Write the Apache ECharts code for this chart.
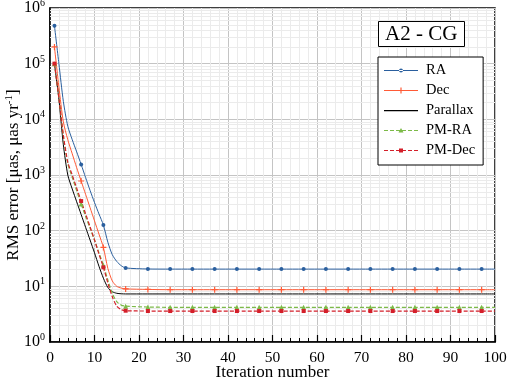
<!DOCTYPE html>
<html style="height: 100%;">
  <head>
    <meta charset="utf-8" />
  </head>
  <body style="height: 100%; margin: 0; background: #fff;">
    <div id="container" style="width: 511px; height: 381px;"></div>
    <script src="https://cdn.jsdelivr.net/npm/echarts@6/dist/echarts.min.js"></script>
    <script type="text/javascript">
      // iteration numbers where values were read (curves flat after ~17)
      var iterations = [1, 2, 3, 4, 5, 6, 7, 8, 9, 10, 11, 12, 13, 14, 15, 16, 17,
        22, 27, 32, 37, 42, 47, 52, 57, 62, 67, 72, 77, 82, 87, 92, 97, 100];
      var markedIters = [1, 7, 12, 17, 22, 27, 32, 37, 42, 47, 52, 57, 62, 67, 72, 77, 82, 87, 92, 97];

      var raErr = [480000, 100000, 21000, 7500, 4300, 2600, 1550, 900, 530, 320, 200, 126, 62, 37, 28, 23.5, 21.4,
        20.5, 20.4, 20.4, 20.4, 20.4, 20.4, 20.4, 20.4, 20.4, 20.4, 20.4, 20.4, 20.4, 20.4, 20.4, 20.4, 20.4];
      var decErr = [200000, 38000, 9000, 4300, 2400, 1350, 780, 450, 260, 150, 87, 50, 21, 12.5, 10, 9.3, 9.0,
        8.8, 8.7, 8.7, 8.7, 8.7, 8.7, 8.7, 8.7, 8.7, 8.7, 8.7, 8.7, 8.7, 8.7, 8.7, 8.7, 8.7];
      var parallaxErr = [100000, 23000, 3500, 1000, 560, 330, 195, 115, 68, 40, 23, 14, 9.5, 8.0, 7.5, 7.35, 7.3,
        7.3, 7.3, 7.3, 7.3, 7.3, 7.3, 7.3, 7.3, 7.3, 7.3, 7.3, 7.3, 7.3, 7.3, 7.3, 7.3, 7.3];
      var pmraErr = [100000, 24000, 5000, 1600, 900, 520, 300, 180, 110, 68, 40, 24, 13, 7.5, 5.3, 4.6, 4.4,
        4.25, 4.2, 4.2, 4.2, 4.2, 4.2, 4.2, 4.2, 4.2, 4.2, 4.2, 4.2, 4.2, 4.2, 4.2, 4.2, 4.2];
      var pmdecErr = [100000, 24000, 5200, 1700, 1000, 580, 340, 200, 118, 68, 38, 22, 11.5, 6.5, 4.4, 3.8, 3.65,
        3.6, 3.6, 3.6, 3.6, 3.6, 3.6, 3.6, 3.6, 3.6, 3.6, 3.6, 3.6, 3.6, 3.6, 3.6, 3.6, 3.6];

      var seriesNames = ["RA", "Dec", "Parallax", "PM-RA", "PM-Dec"];
      var yDecades = [0, 1, 2, 3, 4, 5, 6];

      var serif = "Liberation Serif";

      // light grid lines at 2..9 x 10^k
      var minorY = [];
      yDecades.slice(0, -1).forEach(function (d) {
        for (var m = 2; m <= 9; m++) minorY.push({ yAxis: m * Math.pow(10, d) });
      });

      function makeData(vals) {
        return iterations.map(function (it, i) {
          var item = { value: [it, vals[i]] };
          if (markedIters.indexOf(it) < 0) item.symbol = "none";
          return item;
        });
      }

      function lineSeries(name, vals, color, symbol, size, dashed) {
        return {
          name: name,
          type: "line",
          smooth: 0.25,
          z: 5,
          symbol: symbol,
          symbolSize: size,
          itemStyle: { color: color },
          lineStyle: { color: color, width: dashed ? 1.2 : 1, type: dashed ? [4, 2] : "solid" },
          data: makeData(vals),
        };
      }

      var plusPath = "path://M4,0H6V4H10V6H6V10H4V6H0V4H4Z";

      // legend icons: 34x8 box, tiny corner dots keep the bounding box fixed
      var corners = "M0,0h0.01v0.01h-0.01Z M33.99,7.99h0.01v0.01h-0.01Z ";
      var solidLine = "M0,3.5H34V4.6H0Z ";
      var dashLine = "";
      for (var dx = 0; dx < 34; dx += 6) dashLine += "M" + dx + ",3.4h4v1.2h-4Z ";
      var legendIcons = {
        "RA": "path://" + corners + solidLine + "M15,4A2,2 0 1,0 19,4A2,2 0 1,0 15,4Z",
        "Dec": "path://" + corners + solidLine + "M14,3.4H20V4.6H14Z M16.4,1H17.6V7H16.4Z",
        "Parallax": "path://" + corners + "M0,3.4H34V4.7H0Z",
        "PM-RA": "path://" + corners + dashLine + "M17,1.5L19.5,6H14.5Z",
        "PM-Dec": "path://" + corners + dashLine + "M15,2H19V6H15Z",
      };

      var dom = document.getElementById("container");
      var myChart = echarts.init(dom);

      var option = {
        animation: false,
        backgroundColor: "#fff",
        textStyle: { fontFamily: serif, color: "#000" },
        title: {
          text: "A2 - CG",
          left: 378,
          top: 21,
          z: 20,
          padding: [3, 7, 2, 7],
          borderColor: "#000",
          borderWidth: 1,
          backgroundColor: "#fff",
          textStyle: { fontFamily: serif, fontSize: 21, fontWeight: "normal", color: "#000" },
        },
        legend: {
          left: 378,
          top: 57,
          z: 20,
          orient: "vertical",
          padding: [6, 8, 7, 6],
          itemGap: 5,
          itemWidth: 34,
          itemHeight: 8,
          borderColor: "#000",
          borderWidth: 1,
          backgroundColor: "#fff",
          textStyle: { fontFamily: serif, fontSize: 14.5, color: "#000", padding: [0, 0, 0, 3] },
          data: seriesNames.map(function (n) {
            return { name: n, icon: legendIcons[n] };
          }),
        },
        grid: {
          left: 50,
          right: 16,
          top: 8,
          bottom: 39,
          outerBoundsMode: "none",
          containLabel: false,
          show: true,
          borderColor: "#000",
          borderWidth: 1.5,
        },
        xAxis: {
          type: "value",
          min: 0,
          max: 100,
          interval: 10,
          name: "Iteration number",
          nameLocation: "middle",
          nameGap: 22,
          nameMoveOverlap: false,
          nameTextStyle: { fontFamily: serif, fontSize: 17, color: "#000" },
          axisLine: { lineStyle: { color: "#000", width: 1.5 } },
          axisTick: { inside: true, length: 7, lineStyle: { color: "#000", width: 1.2 } },
          minorTick: { show: true, splitNumber: 5, length: 4, lineStyle: { color: "#000", width: 1 } },
          axisLabel: { fontFamily: serif, fontSize: 15.5, color: "#000", margin: 8 },
          splitLine: { lineStyle: { color: "#c4c4c4", width: 1 } },
          minorSplitLine: { show: true, lineStyle: { color: "#ebebeb", width: 1 } },
        },
        yAxis: {
          type: "log",
          logBase: 10,
          min: 1,
          max: 1000000,
          name: "RMS error [μas, μas yr{sup|-1}]",
          nameLocation: "middle",
          nameGap: 27,
          nameMoveOverlap: false,
          nameTextStyle: {
            fontFamily: serif,
            fontSize: 17,
            color: "#000",
            rich: { sup: { fontFamily: serif, fontSize: 11, padding: [0, 0, 8, 0], color: "#000" } },
          },
          axisLine: { lineStyle: { color: "#000", width: 1.5 } },
          axisTick: { show: false },
          axisLabel: {
            fontFamily: serif,
            fontSize: 16,
            color: "#000",
            margin: 5,
            formatter: function (v) {
              return "10{sup|" + Math.round(Math.log10(v)) + "}";
            },
            rich: { sup: { fontFamily: serif, fontSize: 10, padding: [0, 0, 9, 0], color: "#000" } },
          },
          splitLine: { lineStyle: { color: "#c4c4c4", width: 1 } },
        },
        series: [
          {
            name: "minor",
            type: "line",
            data: [],
            z: 1,
            silent: true,
            markLine: {
              silent: true,
              z: 1,
              symbol: "none",
              label: { show: false },
              lineStyle: { color: "#ebebeb", width: 1, type: "solid" },
              data: minorY,
            },
          },
          lineSeries("RA", raErr, "#2a5f9e", "circle", 4, false),
          lineSeries("Dec", decErr, "#ff5a36", plusPath, 6, false),
          lineSeries("Parallax", parallaxErr, "#000000", "none", 0, false),
          lineSeries("PM-RA", pmraErr, "#7cba48", "triangle", 5, true),
          lineSeries("PM-Dec", pmdecErr, "#d41f2a", "rect", 4, true),
        ],
      };

      myChart.setOption(option);
    </script>
  </body>
</html>
